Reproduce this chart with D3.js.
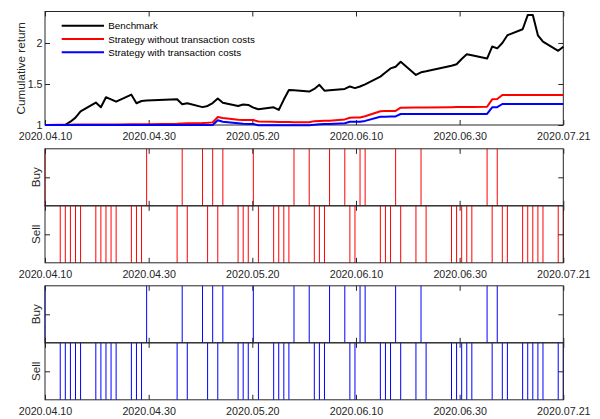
<!DOCTYPE html>
<html>
<head>
<meta charset="utf-8">
<script src="https://cdn.jsdelivr.net/npm/d3@7"></script>
<style>
  html, body { margin: 0; padding: 0; background: #fff; }
  svg { display: block; font-family: "Liberation Sans", Arial, sans-serif; }
</style>
</head>
<body>
<svg id="chart" width="600" height="419"></svg>
<script>
// Trading days (2020)
const tradeDates = [
  "2020-04-10","2020-04-13","2020-04-14","2020-04-15","2020-04-16","2020-04-17",
  "2020-04-20","2020-04-21","2020-04-22","2020-04-23","2020-04-24",
  "2020-04-27","2020-04-28","2020-04-29","2020-04-30",
  "2020-05-06","2020-05-07","2020-05-08",
  "2020-05-11","2020-05-12","2020-05-13","2020-05-14","2020-05-15",
  "2020-05-18","2020-05-19","2020-05-20","2020-05-21","2020-05-22",
  "2020-05-25","2020-05-26","2020-05-27","2020-05-28","2020-05-29",
  "2020-06-01","2020-06-02","2020-06-03","2020-06-04","2020-06-05",
  "2020-06-08","2020-06-09","2020-06-10","2020-06-11","2020-06-12",
  "2020-06-15","2020-06-16","2020-06-17","2020-06-18","2020-06-19",
  "2020-06-22","2020-06-23","2020-06-24",
  "2020-06-29","2020-06-30","2020-07-01","2020-07-02","2020-07-03",
  "2020-07-06","2020-07-07","2020-07-08","2020-07-09","2020-07-10",
  "2020-07-13","2020-07-14","2020-07-15","2020-07-16","2020-07-17",
  "2020-07-20","2020-07-21"
];

// Cumulative returns
const benchmark = [
  1.000, 1.000, 1.003, 1.040, 1.090, 1.167,
  1.274, 1.216, 1.338, 1.312, 1.284,
  1.370, 1.265, 1.293, 1.298,
  1.313, 1.252, 1.265,
  1.218, 1.232, 1.268, 1.323, 1.272,
  1.232, 1.250, 1.245, 1.212, 1.192,
  1.216, 1.183, 1.310, 1.427, 1.425,
  1.408, 1.440, 1.490, 1.418, 1.423,
  1.440, 1.470, 1.450, 1.470, 1.496,
  1.590, 1.640, 1.690, 1.710, 1.772,
  1.610, 1.643, 1.655,
  1.723, 1.740, 1.805, 1.862, 1.850,
  1.810, 1.957, 1.935, 2.000, 2.094,
  2.168, 2.340, 2.340, 2.094, 2.016,
  1.905, 1.955
];

const noCost = [
  1.000, 1.002, 1.003, 1.004, 1.005, 1.005,
  1.006, 1.006, 1.007, 1.007, 1.007,
  1.008, 1.008, 1.008, 1.009,
  1.015, 1.018, 1.020,
  1.024, 1.027, 1.032, 1.098, 1.085,
  1.063, 1.062, 1.061, 1.060, 1.042,
  1.040, 1.038, 1.037, 1.036, 1.035,
  1.034, 1.047, 1.049, 1.051, 1.052,
  1.068, 1.088, 1.090, 1.092, 1.106,
  1.168, 1.170, 1.171, 1.172, 1.211,
  1.212, 1.213, 1.214,
  1.217, 1.218, 1.219, 1.220, 1.221,
  1.222, 1.313, 1.316, 1.366, 1.366,
  1.366, 1.366, 1.366, 1.366, 1.366,
  1.366, 1.366
];

const withCost = [
  1.000, 1.000, 1.000, 1.000, 1.000, 1.000,
  1.000, 1.000, 1.000, 1.000, 1.000,
  1.000, 1.000, 1.000, 1.000,
  1.000, 1.000, 1.000,
  1.000, 1.000, 1.000, 1.058, 1.040,
  1.020, 1.014, 1.013, 1.012, 0.998,
  0.997, 0.997, 0.997, 0.997, 0.997,
  0.997, 1.004, 1.008, 1.011, 1.012,
  1.021, 1.039, 1.040, 1.041, 1.050,
  1.100, 1.102, 1.103, 1.104, 1.134,
  1.134, 1.134, 1.134,
  1.134, 1.134, 1.134, 1.135, 1.135,
  1.135, 1.216, 1.217, 1.256, 1.256,
  1.256, 1.256, 1.256, 1.256, 1.256,
  1.256, 1.256
];

// Daily trading signal: 1 = buy, -1 = sell
const signals = [
   1, -1, -1, -1, -1, -1,
  -1, -1, -1, -1, -1,
  -1, -1, -1,  1,
  -1,  1, -1,
   1, -1,  1, -1,  1,
  -1, -1, -1,  1, -1,
  -1, -1, -1, -1,  1,
   1, -1, -1, -1,  1,
   1, -1, -1,  1,  1,
  -1, -1, -1,  1, -1,
  -1,  1, -1,
  -1, -1, -1, -1, -1,
   1, -1,  1, -1, -1,
  -1, -1, -1, -1, -1,
  -1, -1
];

const xTickLabels = ["2020.04.10", "2020.04.30", "2020.05.20", "2020.06.10", "2020.06.30", "2020.07.21"];
const yTickValues = [1, 1.5, 2];
const yTickLabels = ["1", "1.5", "2"];
const seriesNames = ["Benchmark", "Strategy without transaction costs", "Strategy with transaction costs"];
const seriesColors = ["#000000", "#ff0000", "#0000ff"];
const panelLabels = ["Buy", "Sell"];

// ---- layout ----
const W = 600, H = 419;
const left = 45, right = 563.3;
const axisColor = "#262626";
const tickLen = 5;
const tickFont = "10.7px";
const labelFont = "11.7px";

const parse = d3.utcParse("%Y-%m-%d");
const dates = tradeDates.map(parse);
const t0 = dates[0], t1 = dates[dates.length - 1];

const x = d3.scaleUtc().domain([t0, t1]).range([left, right]);
const xTicks = d3.range(xTickLabels.length).map(i => new Date(+t0 + i * (t1 - t0) / (xTickLabels.length - 1)));

const svg = d3.select("#chart");

function frame(g, top, bottom) {
  g.append("rect")
    .attr("x", left).attr("y", top)
    .attr("width", right - left).attr("height", bottom - top)
    .attr("fill", "none").attr("stroke", axisColor).attr("stroke-width", 1);
}

function xAxes(g, top, bottom, withLabels) {
  const bottomAxis = d3.axisBottom(x).tickValues(xTicks).tickSizeInner(-tickLen).tickSizeOuter(0)
    .tickPadding(7.4)
    .tickFormat((d, i) => withLabels ? xTickLabels[i] : "");
  const gb = g.append("g").attr("transform", `translate(0,${bottom})`).call(bottomAxis);
  gb.select(".domain").remove();
  gb.selectAll("line").attr("stroke", axisColor);
  gb.selectAll("text").attr("fill", axisColor).style("font-size", tickFont).style("font-family", null);

  const topAxis = d3.axisTop(x).tickValues(xTicks).tickSizeInner(-tickLen).tickSizeOuter(0).tickFormat("");
  const gt = g.append("g").attr("transform", `translate(0,${top})`).call(topAxis);
  gt.select(".domain").remove();
  gt.selectAll("line").attr("stroke", axisColor);
}

function yAxes(g, y, values, labels) {
  const la = d3.axisLeft(y).tickValues(values).tickSizeInner(-tickLen).tickSizeOuter(0)
    .tickPadding(2.5)
    .tickFormat((d, i) => labels ? labels[i] : "");
  const gl = g.append("g").attr("transform", `translate(${left},0)`).call(la);
  gl.select(".domain").remove();
  gl.selectAll("line").attr("stroke", axisColor);
  gl.selectAll("text").attr("fill", axisColor).style("font-size", tickFont).style("font-family", null);

  const ra = d3.axisRight(y).tickValues(values).tickSizeInner(-tickLen).tickSizeOuter(0).tickFormat("");
  const gr = g.append("g").attr("transform", `translate(${right},0)`).call(ra);
  gr.select(".domain").remove();
  gr.selectAll("line").attr("stroke", axisColor);
}

function yLabel(g, text, cx, cy) {
  g.append("text")
    .attr("transform", `translate(${cx},${cy}) rotate(-90)`)
    .attr("text-anchor", "middle")
    .attr("fill", axisColor)
    .style("font-size", labelFont)
    .text(text);
}

// ---- cumulative return panel ----
const topY0 = 11.5, topY1 = 125;
const y = d3.scaleLinear().domain([1, 2.384]).range([topY1, topY0]);

const g1 = svg.append("g");
frame(g1, topY0, topY1);
xAxes(g1, topY0, topY1, true);
yAxes(g1, y, yTickValues, yTickLabels);
yLabel(g1, "Cumulative return", 25, (topY0 + topY1) / 2);

const series = [benchmark, noCost, withCost];
const line = d3.line().x((d, i) => x(dates[i])).y(d => y(d));
series.forEach((vals, k) => {
  g1.append("path")
    .datum(vals)
    .attr("d", line)
    .attr("fill", "none")
    .attr("stroke", seriesColors[k])
    .attr("stroke-width", 2)
    .attr("stroke-linejoin", "round");
});

// legend
const legend = g1.append("g");
seriesNames.forEach((name, k) => {
  const ly = 25.7 + k * 13.3;
  legend.append("line")
    .attr("x1", 61.7).attr("x2", 104).attr("y1", ly).attr("y2", ly)
    .attr("stroke", seriesColors[k]).attr("stroke-width", 2);
  legend.append("text")
    .attr("x", 108.3).attr("y", ly + 3.5)
    .attr("fill", "#000")
    .style("font-size", "9.8px")
    .text(name);
});

// ---- buy / sell signal panels ----
function signalPanel(top, color) {
  const h = 57;
  const mid = top + h, bottom = top + 2 * h;
  const g = svg.append("g");
  const bands = [
    { name: panelLabels[0], y0: top, y1: mid, sig: 1, labels: false },
    { name: panelLabels[1], y0: mid, y1: bottom, sig: -1, labels: true }
  ];
  bands.forEach(b => {
    const ys = d3.scaleLinear().domain([0, 1]).range([b.y1, b.y0]);
    const marks = dates.filter((d, i) => signals[i] === b.sig);
    g.selectAll(null).data(marks).enter().append("line")
      .attr("x1", d => x(d)).attr("x2", d => x(d))
      .attr("y1", ys(0)).attr("y2", ys(1))
      .attr("stroke", color).attr("stroke-width", 1);
    frame(g, b.y0, b.y1);
    xAxes(g, b.y0, b.y1, b.labels);
    yAxes(g, ys, [0.5], null);
    yLabel(g, b.name, 39.5, (b.y0 + b.y1) / 2);
  });
}

signalPanel(148.8, seriesColors[1]);
signalPanel(285.8, seriesColors[2]);
</script>
</body>
</html>
